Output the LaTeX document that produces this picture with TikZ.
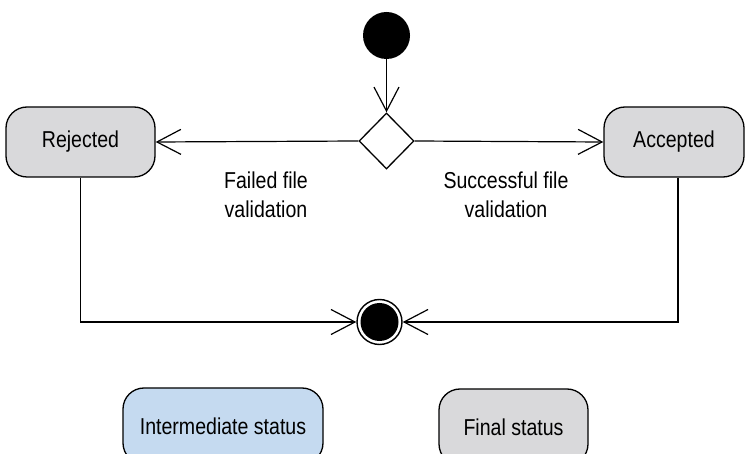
\documentclass[tikz,border=0pt]{standalone}
\usepackage{fontspec}
\setmainfont{Liberation Sans}[FakeStretch=0.85]
\usetikzlibrary{arrows.meta,shapes.geometric}
\definecolor{statgray}{RGB}{217,217,219}
\definecolor{statblue}{RGB}{197,218,240}
\begin{document}
\begin{tikzpicture}[x=1pt,y=-1pt,
  every node/.style={font=\fontsize{23}{27}\selectfont},
  status/.style={draw=black,line width=1.3pt,rounded corners=21pt,minimum height=70pt,inner sep=0pt,fill=statgray},
  conn/.style={line width=1.2pt,-{Straight Barb[length=24pt,width=25pt,line width=1.2pt]}},
  lbl/.style={align=center,inner sep=0pt,font=\fontsize{23}{29}\selectfont}]
\clip (0,0) rectangle (745,454);
\node[circle,fill=black,minimum size=47pt,inner sep=0pt] (start) at (386.5,35.5) {};
\node[diamond,draw=black,line width=1.3pt,fill=white,minimum width=55pt,minimum height=56pt,inner sep=0pt] (dec) at (386.5,141) {};
\node[status,minimum width=149pt] (rej) at (80.5,142) {Rejected};
\node[status,minimum width=140pt] (acc) at (674,142) {Accepted};
\node[circle,draw=black,line width=1.4pt,fill=white,minimum size=45pt,inner sep=0pt] (end) at (379.5,322) {};
\fill[black] (end.center) circle (19pt);
\draw[conn] (start) -- (dec);
\draw[conn] (dec.west) -- (rej.east);
\draw[conn] (dec.east) -- (acc.west);
\draw[conn] (rej.south) |- (end.west);
\draw[conn] ([xshift=4pt]acc.south) |- (end.east);
\node[lbl] (lfail) at (266,195) {Failed file\\validation};
\node[lbl] (lsucc) at (506,195) {Successful file\\validation};
\node[status,fill=statblue,minimum width=200pt,minimum height=76pt] (inter) at (223,426) {Intermediate status};
\node[status,minimum width=149pt,minimum height=76pt] (final) at (513.5,427) {Final status};
\end{tikzpicture}
\end{document}
